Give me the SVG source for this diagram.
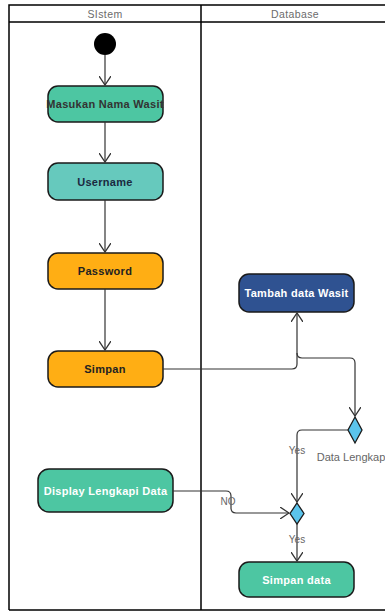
<svg xmlns="http://www.w3.org/2000/svg" width="385" height="612" viewBox="0 0 385 612">
<defs>
<marker id="open" viewBox="0 0 10 12" refX="9" refY="6" markerWidth="10" markerHeight="12" markerUnits="userSpaceOnUse" orient="auto">
<path d="M0,0 L9,6 L0,12" fill="none" stroke="#333" stroke-width="1.3"/>
</marker>
<style>
.lane{fill:none;stroke:#000;stroke-width:1.5}
.hdr{font-family:"Liberation Sans",Arial,sans-serif;font-size:10.5px;letter-spacing:0.4px;fill:#6b6b6b;text-anchor:middle}
.box{stroke:#1a1a1a;stroke-width:1.5}
.t{font-family:"Liberation Sans",Arial,sans-serif;font-size:11px;letter-spacing:0.3px;font-weight:bold;text-anchor:middle;dominant-baseline:central}
.c{fill:none;stroke:#333;stroke-width:1.2;marker-end:url(#open)}
.lbl{font-family:"Liberation Sans",Arial,sans-serif;font-size:10px;fill:#666;text-anchor:middle}
.dia{fill:#5BC4EC;stroke:#1a1a1a;stroke-width:1.3}
</style>
</defs>
<g id="lanes">
<path class="lane" d="M9,610 V5 H386 M9,22 H386 M201,5 V610 M9,610 H386"/>
<text class="hdr" x="105" y="18">SIstem</text>
<text class="hdr" x="295" y="18">Database</text>
</g>
<g id="start"><circle cx="105" cy="44" r="11" fill="#000"/></g>
<g id="masukan"><rect class="box" x="48" y="86" width="115" height="36" rx="10" fill="#4DC6A2"/><text class="t" x="105" y="104" fill="#333">Masukan Nama Wasit</text></g>
<g id="username"><rect class="box" x="48" y="163" width="115" height="37" rx="10" fill="#66C9BD"/><text class="t" x="105" y="182" fill="#1a2a40">Username</text></g>
<g id="password"><rect class="box" x="48" y="253" width="115" height="36" rx="10" fill="#FFAE14"/><text class="t" x="105" y="271" fill="#222">Password</text></g>
<g id="simpan"><rect class="box" x="48" y="351" width="115" height="36" rx="10" fill="#FFAE14"/><text class="t" x="105" y="369" fill="#222">Simpan</text></g>
<g id="tambah"><rect class="box" x="239" y="274" width="115" height="38" rx="10" fill="#2F5291"/><text class="t" x="296.5" y="293" fill="#fff">Tambah data Wasit</text></g>
<g id="display"><rect class="box" x="38" y="469" width="135" height="43" rx="11" fill="#4DC6A2"/><text class="t" x="105.5" y="491" fill="#fff">Display Lengkapi Data</text></g>
<g id="simpandata"><rect class="box" x="239" y="562" width="115" height="35" rx="10" fill="#4DC6A2"/><text class="t" x="296.5" y="580" fill="#fff">Simpan data</text></g>
<g id="decision1"><path class="dia" d="M355,417 L362,430 L355,443 L348,430 Z"/><text class="lbl" x="351" y="461" fill="#4a5a70" style="font-size:11px">Data Lengkap</text></g>
<g id="decision2"><path class="dia" d="M297,503 L304,513.5 L297,524 L290,513.5 Z"/></g>
<g id="connectors">
<path class="c" d="M105,55 V85"/>
<path class="c" d="M105,122 V162"/>
<path class="c" d="M105,200 V252"/>
<path class="c" d="M105,289 V350"/>
<path class="c" d="M163,369 H292 Q297,369 297,364 V313"/>
<path class="c" d="M297,353 Q297,358 302,358 H350 Q355,358 355,363 V416"/>
<path class="c" d="M348,430 H302 Q297,430 297,435 V502"/>
<text class="lbl" x="297" y="454">Yes</text>
<path class="c" d="M173,491 H226 Q231,491 231,496 V508 Q231,513 236,513 H289"/>
<text class="lbl" x="228" y="505">NO</text>
<path class="c" d="M297,524 V561"/>
<text class="lbl" x="297" y="543">Yes</text>
</g>
</svg>
